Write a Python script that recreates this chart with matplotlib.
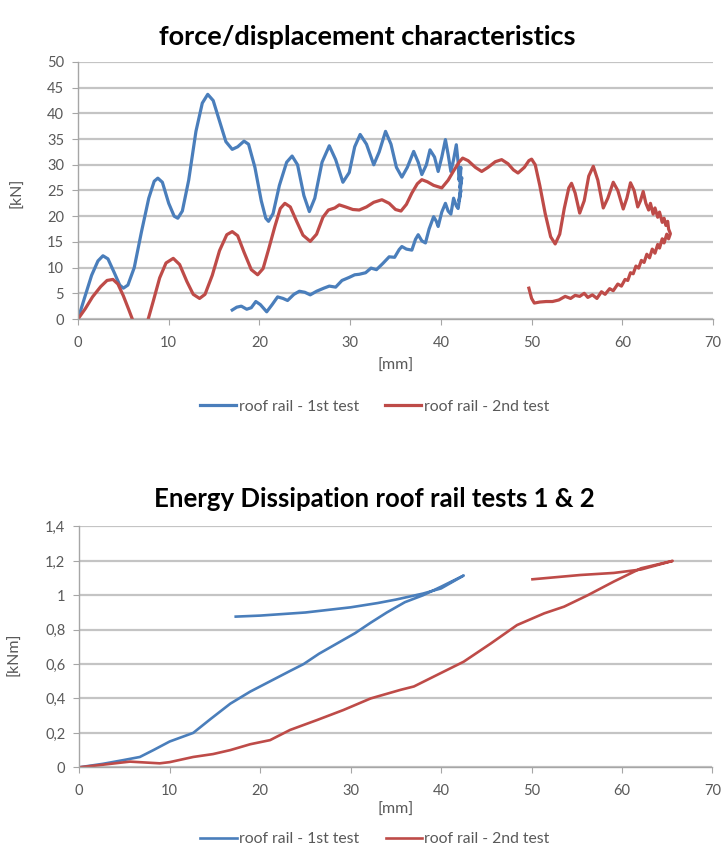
import matplotlib
matplotlib.use("Agg")
import matplotlib.pyplot as plt

plt.rcParams['font.family'] = ['Lato', 'DejaVu Sans']

BLUE = '#4a7ebb'
RED = '#be4b48'
GRID = '#c4c4c4'
TXT = '#595959'

# force / displacement, test 1 (path order: loading, then unloading back)
f1_x = [0, 0.7, 1.5, 2.2, 2.75, 3.3, 4.0, 4.6, 5.0, 5.5, 6.2, 7.0, 7.8, 8.4, 8.8, 9.3,
        10.0, 10.6, 11.0, 11.5, 12.2, 13.0, 13.7, 14.3, 14.9, 15.6, 16.3, 17.0, 17.6,
        18.3, 18.8, 19.5, 20.2, 20.7, 21.0, 21.5, 22.2, 23.0, 23.6, 24.2, 24.9, 25.5,
        26.1, 26.9, 27.7, 28.4, 29.2, 29.9, 30.5, 31.1, 31.8, 32.6, 33.2, 33.9, 34.5,
        35.1, 35.7, 36.3, 37.0, 37.5, 37.9, 38.4, 38.8, 39.3, 39.7, 40.1, 40.5, 40.8,
        41.1, 41.4, 41.7, 41.9, 42.0, 42.2, 42.1, 42.3, 42.0, 42.2, 41.9,
        41.7, 41.4, 41.1, 40.8, 40.5, 40.1, 39.7, 39.5, 39.2, 38.7, 38.3, 37.9, 37.5,
        37.2, 36.8, 36.2, 35.7, 35.4, 34.9, 34.3, 33.6, 32.9, 32.3, 31.7, 31.0, 30.5,
        29.9, 29.1, 28.4, 27.7, 27.1, 26.3, 25.6, 25.0, 24.4, 23.8, 23.1, 22.6, 22.0,
        21.4, 20.8, 20.1, 19.6, 19.1, 18.6, 18.0, 17.5, 17.0]
f1_y = [0, 4.0, 8.5, 11.3, 12.3, 11.7, 9.0, 6.6, 6.0, 6.6, 10.0, 17.0, 23.5, 26.8, 27.4, 26.6,
        22.5, 20.0, 19.6, 21.0, 27.0, 36.5, 42.0, 43.7, 42.5, 38.5, 34.5, 33.0, 33.5,
        34.6, 34.0, 29.5, 23.0, 19.6, 19.0, 20.5, 26.0, 30.5, 31.7, 30.0, 24.0, 20.9,
        23.5, 30.5, 33.7, 31.0, 26.6, 28.5, 33.5, 35.9, 34.0, 30.0, 32.5, 36.5, 34.0,
        29.5, 27.6, 29.5, 32.6, 30.5, 28.1, 30.0, 32.9, 31.5, 28.7, 31.5, 34.9, 32.0,
        28.7, 31.0, 33.9, 30.5, 27.0, 29.5, 25.5, 27.5, 23.0, 25.0, 21.5,
        22.0, 23.5, 20.4, 21.0, 22.5, 20.8, 18.0, 19.0, 19.9, 17.5, 14.8, 15.2, 16.4,
        15.5, 13.4, 13.6, 14.1, 13.5, 12.0, 12.1, 10.8, 9.6, 9.9, 9.0, 8.7, 8.6,
        8.1, 7.5, 6.2, 6.4, 6.0, 5.4, 4.7, 5.2, 5.4, 4.8, 3.6, 4.0, 4.3,
        2.8, 1.4, 2.8, 3.4, 2.2, 1.9, 2.5, 2.3, 1.75]

# force / displacement, test 2
f2_x = [0, 0.8, 1.6, 2.5, 3.2, 3.85, 4.4, 5.0, 5.6, 6.2, 6.9, 7.5, 8.3, 9.0, 9.7, 10.5,
        11.2, 12.0, 12.7, 13.4, 14.0, 14.8, 15.6, 16.4, 17.0, 17.6, 18.3, 19.1, 19.8,
        20.4, 21.0, 21.7, 22.3, 22.8, 23.4, 24.1, 24.8, 25.6, 26.3, 27.0, 27.6, 28.3,
        28.8, 29.5, 30.3, 31.0, 31.8, 32.6, 33.5, 34.3, 35.0, 35.6, 36.2, 36.8, 37.4,
        37.9, 38.5, 39.2, 40.1, 40.8, 41.4, 42.0, 42.4, 43.0, 43.8, 44.5, 45.2, 46.0,
        46.7, 47.4, 48.0, 48.5, 49.2, 49.7, 50.0, 50.4, 50.9, 51.5, 52.1, 52.6, 53.1,
        53.6, 54.1, 54.4, 54.8, 55.3, 55.8, 56.3, 56.8, 57.3, 57.9, 58.4, 59.0, 59.5,
        60.1, 60.5, 60.9, 61.3, 61.7, 62.0, 62.3, 62.6, 62.9, 63.1, 63.4, 63.6, 63.9,
        64.1, 64.4, 64.6, 64.8, 65.0, 65.1, 65.3,
        65.1, 64.9, 64.6, 64.4, 64.1, 63.9, 63.6, 63.3, 63.0, 62.7, 62.4, 62.1, 61.8,
        61.5, 61.2, 60.9, 60.6, 60.3, 59.9, 59.5, 59.0, 58.6, 58.1, 57.7, 57.2, 56.7,
        56.2, 55.8, 55.3, 54.8, 54.3, 53.7, 53.0, 52.3, 51.6, 50.9, 50.3, 50.0, 49.7]
f2_y = [0, 2.0, 4.3, 6.3, 7.5, 7.7, 6.8, 4.5, 1.8, -1.0, -3.0, -1.5, 3.5, 8.0, 10.9, 11.8,
        10.6, 7.3, 4.8, 4.0, 4.8, 8.5, 13.3, 16.4, 17.0, 16.2, 13.0, 9.6, 8.6,
        9.8, 13.5, 18.0, 21.5, 22.5, 21.8, 19.0, 16.3, 15.1, 16.5, 19.8, 21.2, 21.6,
        22.2, 21.8, 21.3, 21.2, 21.8, 22.7, 23.2, 22.5, 21.3, 21.0, 22.3, 24.5, 26.3,
        27.1, 26.7, 26.0, 25.5, 27.0, 28.8, 30.5, 31.3, 30.8, 29.5, 28.7, 29.5, 30.6,
        31.0, 30.2, 29.0, 28.4, 29.5, 30.8, 31.1, 30.0, 26.0, 20.5, 16.0, 14.6, 16.5,
        21.5, 25.5, 26.4, 24.5, 20.6, 23.0, 27.8, 29.7, 27.0, 21.6, 23.5, 26.6, 25.0,
        21.4, 23.5, 26.5, 25.0, 21.8, 23.0, 24.8, 22.5, 21.2, 22.5, 20.4, 21.6, 19.8,
        20.8, 18.8, 19.6, 18.2, 19.0, 17.5, 16.6,
        15.6, 16.5, 14.8, 15.6, 13.8, 14.5, 12.8, 13.6, 11.9, 12.6, 11.0, 11.4, 9.9,
        10.3, 8.8, 9.0, 7.5, 7.7, 6.4, 6.8, 5.5, 5.9, 4.8, 5.3, 4.0, 4.7,
        4.2, 5.0, 4.4, 4.6, 4.0, 4.4, 3.7, 3.4, 3.4, 3.3, 3.1, 4.0, 6.0]

# energy dissipation
e1_x = [0, 2.6, 4.9, 6.7, 8.2, 10.0, 12.6, 14.5, 16.7, 18.9, 21.1, 23.3, 24.8, 26.5,
        28.5, 30.5, 32.2, 34.0, 36.0, 38.0, 40.0, 42.5,
        40.0, 38.0, 35.0, 33.0, 30.0, 25.0, 20.0, 17.3]
e1_y = [0, 0.02, 0.042, 0.06, 0.10, 0.15, 0.20, 0.28, 0.37, 0.44, 0.50, 0.56, 0.60, 0.66,
        0.72, 0.78, 0.84, 0.90, 0.96, 1.00, 1.05, 1.115,
        1.04, 1.01, 0.975, 0.955, 0.93, 0.90, 0.882, 0.876]
e2_x = [0, 2.6, 5.6, 8.9, 10.0, 12.6, 14.8, 16.7, 18.9, 21.1, 23.3, 26.3, 29.2, 32.2,
        35.5, 37.0, 39.9, 42.5, 45.5, 48.4, 51.4, 53.6, 56.2, 59.1, 62.1, 65.6,
        62.1, 59.1, 55.4, 50.1]
e2_y = [0, 0.015, 0.033, 0.023, 0.03, 0.06, 0.077, 0.10, 0.134, 0.158, 0.217, 0.275, 0.333, 0.40,
        0.45, 0.47, 0.546, 0.614, 0.72, 0.827, 0.895, 0.934, 1.0, 1.08, 1.157, 1.2,
        1.15, 1.13, 1.118, 1.093]

x_ticks = [0, 10, 20, 30, 40, 50, 60, 70]
f_ticks = [0, 5, 10, 15, 20, 25, 30, 35, 40, 45, 50]
e_ticks = [0, 0.2, 0.4, 0.6, 0.8, 1.0, 1.2, 1.4]
e_labels = ['0', '0,2', '0,4', '0,6', '0,8', '1', '1,2', '1,4']
names = ['roof rail - 1st test', 'roof rail - 2nd test']

fig = plt.figure(figsize=(7.27, 8.5), dpi=100)
ax1 = fig.add_axes([0.1073, 0.6247, 0.8735, 0.3024])
ax2 = fig.add_axes([0.109, 0.0973, 0.871, 0.2833])


def style(ax):
    for s in ['top', 'right']:
        ax.spines[s].set_visible(False)
    for s in ['left', 'bottom']:
        ax.spines[s].set_color('#a6a6a6')
        ax.spines[s].set_linewidth(1.0)
    ax.yaxis.grid(True, color=GRID, linewidth=1.6)
    ax.set_axisbelow(True)
    ax.tick_params(colors='#a6a6a6', labelcolor=TXT, labelsize=10.5, length=4)
    ax.tick_params(axis='x', pad=8)
    ax.tick_params(axis='y', pad=6)
    ax.set_xlim(0, 70)
    ax.set_xticks(x_ticks)


def legend(ax, y):
    ax.legend(loc='center', bbox_to_anchor=(0.467, y), ncol=2, frameon=False,
              fontsize=11.3, labelcolor=TXT, handlelength=2.3, handletextpad=0.15,
              columnspacing=1.7)


style(ax1)
ax1.plot(f1_x, f1_y, color=BLUE, lw=2.3, solid_joinstyle='round', label=names[0])
ax1.plot(f2_x, f2_y, color=RED, lw=2.3, solid_joinstyle='round', label=names[1])
ax1.set_ylim(0, 50)
ax1.set_yticks(f_ticks)
ax1.set_xlabel('[mm]', color=TXT, fontsize=11.5)
ax1.xaxis.set_label_coords(0.5, -0.155)
ax1.set_ylabel('[kN]', color=TXT, fontsize=11.5)
ax1.yaxis.set_label_coords(-0.085, 0.49)
ax1.set_title('force/displacement characteristics', fontsize=19.5, fontweight='bold',
              color='#000000', pad=12, x=0.455)
legend(ax1, -0.342)

style(ax2)
ax2.plot(e1_x, e1_y, color=BLUE, lw=1.9, solid_joinstyle='round', label=names[0])
ax2.plot(e2_x, e2_y, color=RED, lw=1.9, solid_joinstyle='round', label=names[1])
ax2.set_ylim(0, 1.4)
ax2.set_yticks(e_ticks)
ax2.set_yticklabels(e_labels)
ax2.set_xlabel('[mm]', color=TXT, fontsize=11.5)
ax2.xaxis.set_label_coords(0.5, -0.148)
ax2.set_ylabel('[kNm]', color=TXT, fontsize=11.5)
ax2.yaxis.set_label_coords(-0.092, 0.47)
ax2.set_title('Energy Dissipation roof rail tests 1 & 2', fontsize=18.5, fontweight='bold',
              color='#000000', pad=14, x=0.466)
legend(ax2, -0.298)

fig.savefig('out.png', dpi=100)
